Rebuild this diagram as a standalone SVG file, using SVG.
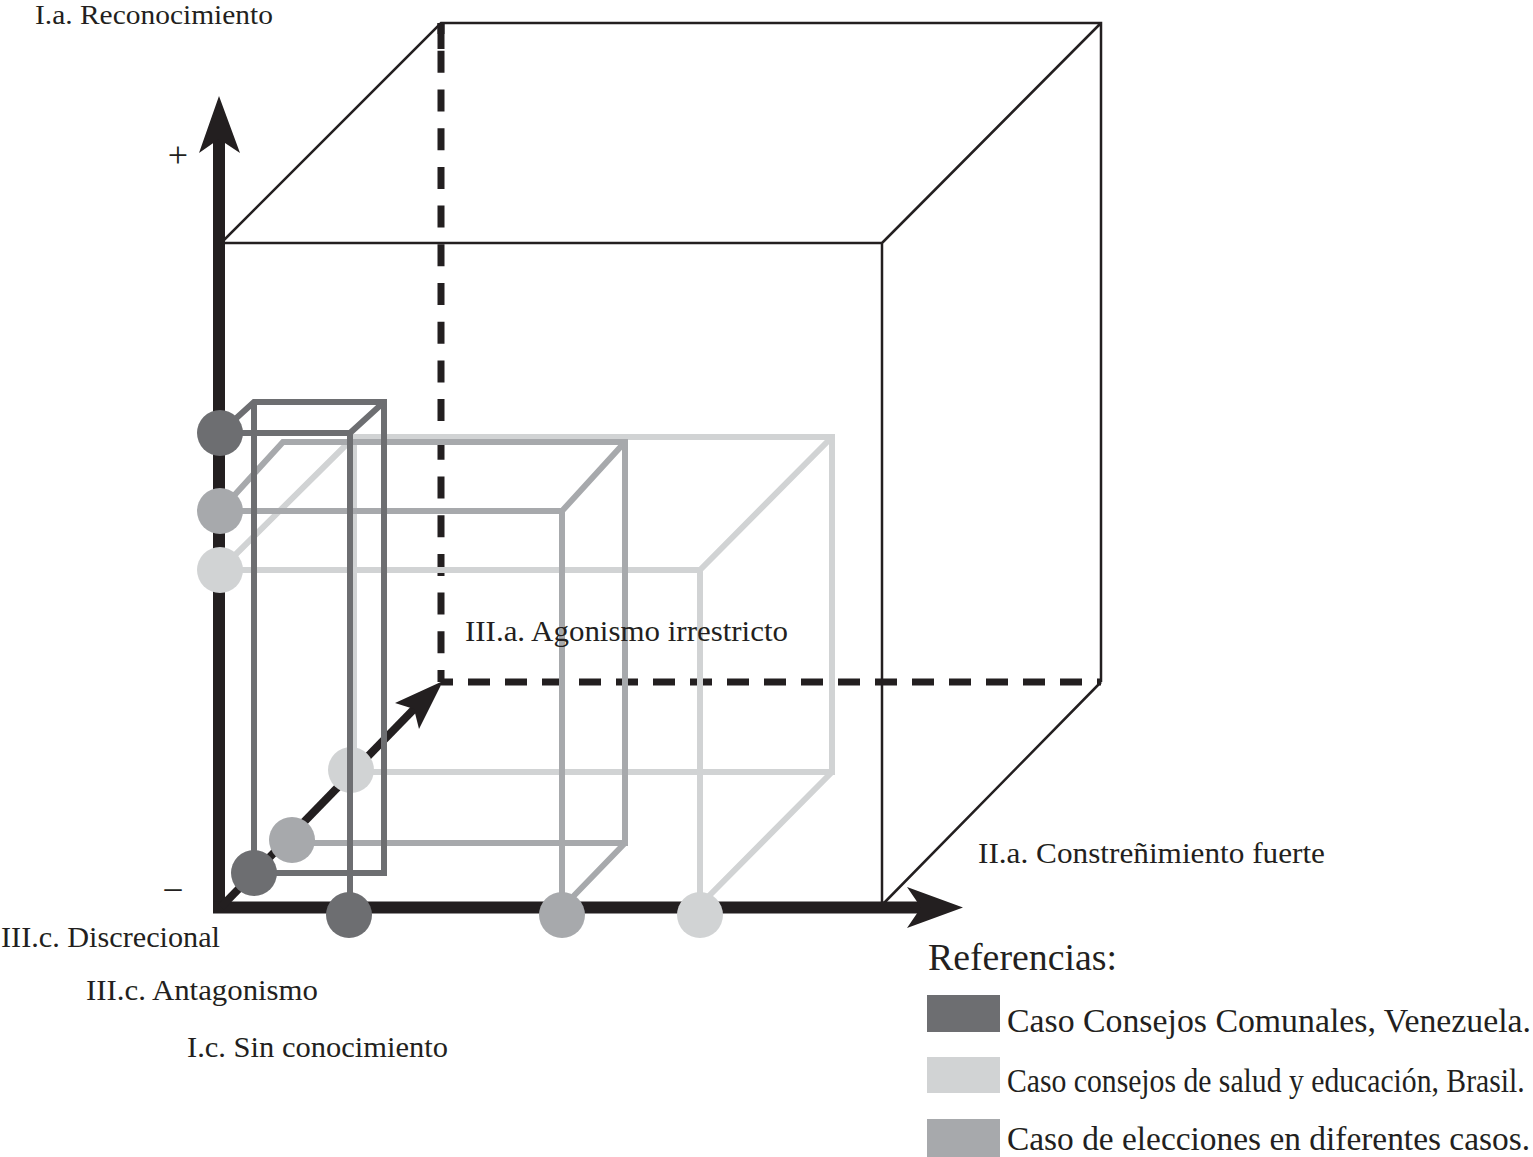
<svg xmlns="http://www.w3.org/2000/svg" width="1533" height="1157" viewBox="0 0 1533 1157">
<style>
.thin{fill:none;stroke:#231f20;stroke-width:2.5;stroke-linejoin:miter}
.dash{fill:none;stroke:#231f20;stroke-width:7}
.ax{fill:none;stroke:#231f20;stroke-width:12}
.head{fill:#231f20}
.dk{fill:none;stroke:#6d6e71;stroke-width:6}
.md{fill:none;stroke:#a7a9ac;stroke-width:6}
.lt{fill:none;stroke:#d1d3d4;stroke-width:6}
.cdk{fill:#6d6e71}
.cmd{fill:#a7a9ac}
.clt{fill:#d1d3d4}
.lbl{font-family:"Liberation Serif","Times New Roman",serif;font-size:29px;fill:#231f20}
.leg{font-family:"Liberation Serif","Times New Roman",serif;font-size:34px;fill:#231f20}
</style>
<rect width="1533" height="1157" fill="#ffffff"/>

<g id="cube">
<path class="thin" d="M221,243 H882 V905 M221,243 L441,23 H1101 V682 M882,243 L1101,23 M882,905 L1101,682"/>
<path class="dash" d="M441,682 V23" stroke-dasharray="22 16.7" stroke-dashoffset="10"/>
<path class="dash" d="M441,23 V49"/>
<path class="dash" d="M441,682 H1101" stroke-dasharray="22 15" stroke-dashoffset="10"/>
</g>

<g id="connectors">
<path class="ax" d="M219,913 V138"/>
<path class="head" d="M219,96 L240,153 L219,139 L199,153 Z"/>
<path class="ax" d="M213,907.5 H921"/>
<path class="head" d="M963,907.5 L907,887 L921,907.5 L907,928 Z"/>
<path fill="none" stroke="#231f20" stroke-width="8" d="M221,907 L417,706"/>
<path class="head" d="M443,681 L419,729 L414,709 L395,703 Z"/>
</g>

<g id="case-brasil">
<path class="lt" d="M220,570 H700 V915 M220,570 L354,437 H832 V772 H351 M700,570 L832,437 M832,772 L700,905 M354,437 V770"/>
<circle class="clt" cx="220" cy="570" r="23"/>
<circle class="clt" cx="351" cy="770" r="23"/>
<circle class="clt" cx="700" cy="915" r="23"/>
</g>

<g id="case-elecciones">
<path class="md" d="M220,511 H562 V915 M220,511 L283,442 H625 V843 H292 M562,511 L625,442 M625,843 L562,908"/>
<circle class="cmd" cx="220" cy="511" r="23"/>
<circle class="cmd" cx="292" cy="840" r="23"/>
<circle class="cmd" cx="562" cy="915" r="23"/>
</g>

<g id="case-venezuela">
<path class="dk" d="M220,433 H350 V915 M220,433 L254,402 H384 V873 H254 V402 M350,433 L384,402"/>
<circle class="cdk" cx="220" cy="433" r="23"/>
<circle class="cdk" cx="254" cy="873" r="23"/>
<circle class="cdk" cx="349" cy="915" r="23"/>
</g>

<g id="labels">
<text class="lbl" x="35" y="24" style="font-size:28px" textLength="238" lengthAdjust="spacingAndGlyphs">I.a. Reconocimiento</text>
<text class="lbl" x="178" y="167" text-anchor="middle" style="font-size:36px">+</text>
<text class="lbl" x="173" y="898" text-anchor="middle" style="font-size:34px">–</text>
<text class="lbl" x="465" y="641" textLength="323" lengthAdjust="spacingAndGlyphs">III.a. Agonismo irrestricto</text>
<text class="lbl" x="978" y="863" textLength="347" lengthAdjust="spacingAndGlyphs">II.a. Constreñimiento fuerte</text>
<text class="lbl" x="1" y="947" textLength="219" lengthAdjust="spacingAndGlyphs">III.c. Discrecional</text>
<text class="lbl" x="86" y="1000" textLength="232" lengthAdjust="spacingAndGlyphs">III.c. Antagonismo</text>
<text class="lbl" x="187" y="1057" textLength="261" lengthAdjust="spacingAndGlyphs">I.c. Sin conocimiento</text>
</g>

<g id="legend">
<text x="928" y="970" font-family="Liberation Serif, Times New Roman, serif" font-size="38" fill="#231f20" textLength="189" lengthAdjust="spacingAndGlyphs">Referencias:</text>
<rect class="cdk" x="927" y="995" width="73" height="37"/>
<rect class="clt" x="927" y="1057" width="73" height="36"/>
<rect class="cmd" x="927" y="1119" width="73" height="38"/>
<text class="leg" x="1007" y="1032" textLength="524" lengthAdjust="spacingAndGlyphs">Caso Consejos Comunales, Venezuela.</text>
<text class="leg" transform="translate(1007,1092) scale(0.9,1)" x="0" y="0" style="font-size:33px">Caso consejos de salud y educación, Brasil.</text>
<text class="leg" x="1007" y="1150" style="font-size:33px" textLength="523" lengthAdjust="spacingAndGlyphs">Caso de elecciones en diferentes casos.</text>
</g>
</svg>
